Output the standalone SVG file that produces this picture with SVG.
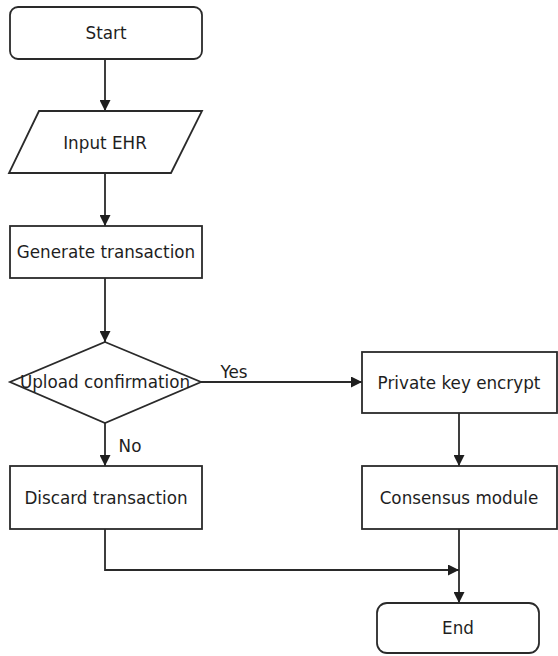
<svg xmlns="http://www.w3.org/2000/svg" width="558" height="656" viewBox="0 0 558 656">
<defs>
<style>
.shape{fill:#fff;stroke:#2a2a2a;stroke-width:1.8}
.line{fill:none;stroke:#2a2a2a;stroke-width:1.8}
text{font-family:"DejaVu Sans",sans-serif;font-size:16.8px;fill:#1e1e1e;text-anchor:middle;dominant-baseline:central}
</style>
<marker id="arr" viewBox="0 0 10 10" refX="10" refY="5" markerWidth="11" markerHeight="11" markerUnits="userSpaceOnUse" orient="auto">
<path d="M0,0 L10,5 L0,10 Z" fill="#1e1e1e"/>
</marker>
</defs>
<rect width="558" height="656" fill="#fff"/>
<g id="connectors">
<line class="line" x1="105" y1="59" x2="105" y2="111" marker-end="url(#arr)"/>
<line class="line" x1="105" y1="173" x2="105" y2="226" marker-end="url(#arr)"/>
<line class="line" x1="105" y1="278" x2="105" y2="342" marker-end="url(#arr)"/>
<line class="line" x1="201" y1="382" x2="362" y2="382" marker-end="url(#arr)"/>
<line class="line" x1="105" y1="423" x2="105" y2="466" marker-end="url(#arr)"/>
<line class="line" x1="459" y1="413" x2="459" y2="466" marker-end="url(#arr)"/>
<polyline class="line" points="105,529 105,570 459,570" marker-end="url(#arr)"/>
<line class="line" x1="459" y1="529" x2="459" y2="603" marker-end="url(#arr)"/>
<text x="234" y="372">Yes</text>
<text x="130" y="446">No</text>
</g>
<g id="start">
<rect class="shape" x="10" y="7" width="192" height="52" rx="8"/>
<text x="106" y="33">Start</text>
</g>
<g id="input">
<polygon class="shape" points="39,111 202,111 171,173 9,173"/>
<text x="105" y="143">Input EHR</text>
</g>
<g id="generate">
<rect class="shape" x="10" y="226" width="192" height="52"/>
<text x="106" y="252">Generate transaction</text>
</g>
<g id="upload">
<polygon class="shape" points="105,342 201,382 105,423 10,382"/>
<text x="105" y="382">Upload confirmation</text>
</g>
<g id="private">
<rect class="shape" x="362" y="352" width="195" height="61"/>
<text x="459" y="383">Private key encrypt</text>
</g>
<g id="discard">
<rect class="shape" x="10" y="466" width="192" height="63"/>
<text x="106" y="498">Discard transaction</text>
</g>
<g id="consensus">
<rect class="shape" x="362" y="466" width="195" height="63"/>
<text x="459" y="498">Consensus module</text>
</g>
<g id="end">
<rect class="shape" x="377" y="603" width="162" height="50" rx="10"/>
<text x="458" y="628">End</text>
</g>
</svg>
